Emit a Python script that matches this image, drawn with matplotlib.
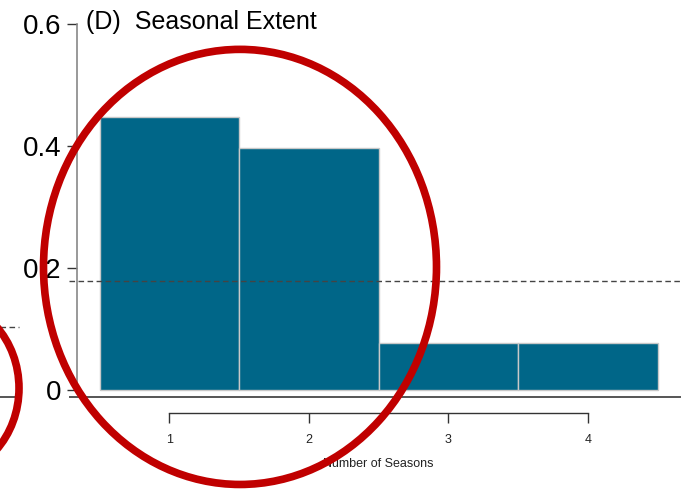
import matplotlib.pyplot as plt
from matplotlib.patches import Ellipse
import numpy as np

plt.rcParams['font.family'] = ['Liberation Sans', 'DejaVu Sans']

seasons = [1, 2, 3, 4]
proportion = [0.447, 0.396, 0.077, 0.077]
mean_line = 0.178
y_ticks = [0, 0.2, 0.4, 0.6]
y_labels = ['0', '0.2', '0.4', '0.6']

fig = plt.figure(figsize=(6.86, 4.91), dpi=100)
# axes fill the whole window, limits chosen so the panel sits like the original
ax = fig.add_axes([0, 0, 1, 1])
ax.set_xlim(-0.2133, 4.704)
ax.set_ylim(-0.1656, 0.639)
ax.patch.set_alpha(0)

ax.bar(seasons, proportion, width=1.0, color='#006688',
       edgecolor='#c8c8c8', linewidth=1.0, zorder=2)

# mean reference and baseline
ax.axhline(mean_line, xmin=0.1, xmax=0.993, color='#444444',
           linestyle=(0, (4, 2.5)), linewidth=1.0, zorder=3)
ax.axhline(-0.011, xmin=0.102, xmax=0.991, color='#555555', linewidth=1.4)

# bits of the neighbouring panel on the left
ax.axhline(0.103, xmin=0, xmax=0.028, color='#444444',
           linestyle=(0, (4, 2.5)), linewidth=1.0)
ax.axhline(-0.011, xmin=0, xmax=0.022, color='#555555', linewidth=1.4)

for s in ['top', 'right']:
    ax.spines[s].set_visible(False)
ax.spines['left'].set_position(('data', 0.3387))
ax.spines['left'].set_bounds(0, 0.6)
ax.spines['left'].set_color('#888888')
ax.spines['left'].set_linewidth(1.2)
ax.spines['bottom'].set_position(('data', -0.0377))
ax.spines['bottom'].set_bounds(1, 4)
ax.spines['bottom'].set_color('#333333')
ax.spines['bottom'].set_linewidth(1.0)

ax.set_yticks(y_ticks)
ax.set_yticklabels(y_labels)
ax.tick_params(axis='y', direction='out', length=7, width=1.0,
               color='#333333', labelsize=20, pad=4)
ax.set_xticks(seasons)
ax.tick_params(axis='x', direction='out', length=7, width=1.0,
               color='#333333', labelsize=9, pad=8, labelcolor='#222222')

ax.set_xlabel('Number of Seasons', fontsize=9, color='#222222')
ax.xaxis.set_label_coords(0.551, 0.068)

ax.text(0.4, 0.603, '(D)  Seasonal Extent', fontsize=18, ha='left', va='center')

# red highlight rings
ax.add_patch(Ellipse((1.507, 0.2016), 2.817, 0.713, fill=False,
                     edgecolor='#c00000', linewidth=5.5, clip_on=False, zorder=5))
ax.add_patch(Ellipse((0.5 - 159.5 / 139.5, 0.003), 158 / 139.5, 176 / 610,
                     fill=False, edgecolor='#c00000', linewidth=5.5,
                     clip_on=False, zorder=5))

fig.savefig('out.png', dpi=100)
